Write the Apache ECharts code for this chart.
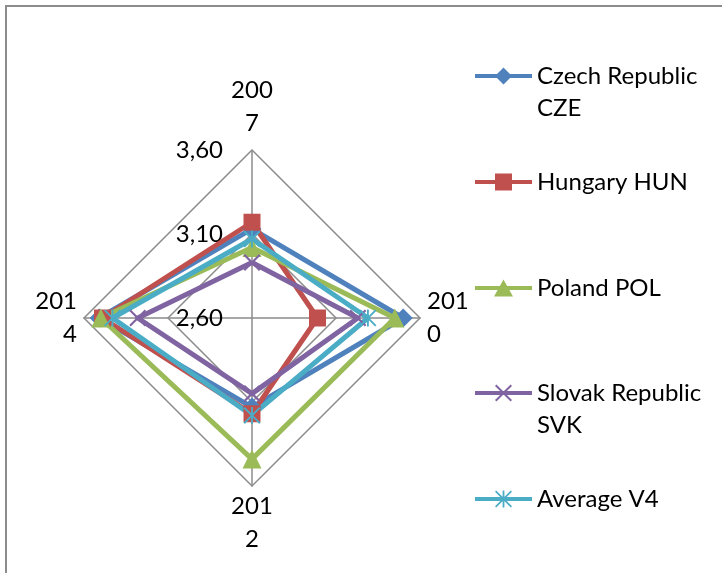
<!DOCTYPE html>
<html>
<head>
<meta charset="utf-8">
<script src="https://cdn.jsdelivr.net/npm/echarts@6/dist/echarts.min.js"></script>
<style>
html,body{margin:0;padding:0;background:#fff;}
#frame{position:absolute;left:5px;top:5px;width:800px;height:700px;border-left:2px solid #8c8c8c;border-top:2px solid #8c8c8c;}
#chart{position:absolute;left:0;top:0;width:722px;height:573px;}
</style>
</head>
<body>
<div id="frame"></div>
<div id="chart"></div>
<script>
// ---- data ----
const categories = ['2007', '2010', '2012', '2014'];
const seriesNames = ['Czech Republic CZE', 'Hungary HUN', 'Poland POL', 'Slovak Republic SVK', 'Average V4'];
const czeValues = [3.13, 3.50, 3.13, 3.51];
const hunValues = [3.17, 2.99, 3.17, 3.49];
const polValues = [3.02, 3.45, 3.44, 3.50];
const svkValues = [2.93, 3.23, 3.05, 3.28];
const avgValues = [3.07, 3.29, 3.18, 3.43];
const axisMin = 2.6;
const axisMax = 3.6;
const axisSplits = 2;

// ---- styles ----
const colors = ['#4F81BD', '#C0504D', '#9BBB59', '#8064A2', '#4BACC6'];
const FONT = 'Lato';
const FS = 24;

// ECharts radar runs counter-clockwise; the reference runs clockwise.
function clockwise(arr) {
  return [arr[0]].concat(arr.slice(1).reverse());
}

// marker shapes
function xPoly(cx, cy, h, d) {
  return 'M' + (cx - h) + ',' + (cy - h + d) + ' L' + (cx - h + d) + ',' + (cy - h) + ' L' + cx + ',' + (cy - d) +
    ' L' + (cx + h - d) + ',' + (cy - h) + ' L' + (cx + h) + ',' + (cy - h + d) + ' L' + (cx + d) + ',' + cy +
    ' L' + (cx + h) + ',' + (cy + h - d) + ' L' + (cx + h - d) + ',' + (cy + h) + ' L' + cx + ',' + (cy + d) +
    ' L' + (cx - h + d) + ',' + (cy + h) + ' L' + (cx - h) + ',' + (cy + h - d) + ' L' + (cx - d) + ',' + cy + ' Z';
}
function vBar(cx, cy, h, w) {
  return 'M' + (cx - w) + ',' + (cy - h) + ' L' + (cx + w) + ',' + (cy - h) + ' L' + (cx + w) + ',' + (cy + h) + ' L' + (cx - w) + ',' + (cy + h) + ' Z';
}
const xSymbol = 'path://' + xPoly(5, 5, 5, 0.9);
const starSymbol = 'path://' + xPoly(5, 5, 5, 0.8) + ' ' + vBar(5, 5, 5, 0.55);

// legend icons (57x17 box: line + marker)
const IW = 57, IH = 17, CX = 28.5, CY = 8.5;
const lineRect = 'M0,6.5 L57,6.5 L57,10.5 L0,10.5 Z ';
const legendIcons = [
  'path://' + lineRect + 'M28.5,0 L37,8.5 L28.5,17 L20,8.5 Z',
  'path://' + lineRect + 'M20,0 L37,0 L37,17 L20,17 Z',
  'path://' + lineRect + 'M28.5,0 L38,17 L19,17 Z',
  'path://' + lineRect + xPoly(CX, CY, 8.5, 1.4),
  'path://' + lineRect + xPoly(CX, CY, 8.5, 1.2) + ' ' + vBar(CX, CY, 8.5, 0.9)
];
const seriesSymbols = ['diamond', 'rect', 'triangle', xSymbol, starSymbol];
const symbolSizes = [19, 17, 19, 17, 17];
const valueSets = [czeValues, hunValues, polValues, svkValues, avgValues];

// legend row centres (icon centre y)
const legendIconY = [76, 182, 288, 393, 499];
const LH = 32;

function isLong(n) { return n.length > 14; }
function wrapName(n) {
  if (isLong(n)) {
    const i = n.lastIndexOf(' ');
    // blank first line keeps the icon level with the first text line
    return ' \n' + n.slice(0, i) + '\n' + n.slice(i + 1);
  }
  return n;
}

const legends = seriesNames.map(function (name, i) {
  const twoLine = isLong(name);
  return {
    orient: 'vertical',
    left: 475,
    padding: 0,
    top: twoLine ? legendIconY[i] - (LH * 3) / 2 : legendIconY[i] - LH / 2,
    itemWidth: IW,
    itemHeight: IH,
    itemGap: 0,
    selectedMode: false,
    data: [{ name: name, icon: legendIcons[i] }],
    formatter: wrapName,
    textStyle: { fontFamily: FONT, fontSize: FS, color: '#000', lineHeight: LH }
  };
});

const gridLine = { color: '#8c8c8c', width: 1.5 };

const option = {
  backgroundColor: 'transparent',
  animation: false,
  legend: legends,
  radar: [
    {
      center: [252, 318],
      radius: 168,
      startAngle: 90,
      shape: 'polygon',
      splitNumber: axisSplits,
      indicator: clockwise(categories).map(function (c) { return { name: c, min: axisMin, max: axisMax }; }),
      axisName: {
        color: '#000', fontFamily: FONT, fontSize: FS, lineHeight: 33,
        padding: [0, 3, 6, 3],
        formatter: function (n) { return n.slice(0, 3) + '\n' + n.slice(3); }
      },
      nameGap: 4,
      axisLine: { show: true, lineStyle: gridLine },
      splitLine: { show: true, lineStyle: gridLine },
      splitArea: { show: false },
      axisTick: { show: false },
      axisLabel: { show: false }
    },
    {
      center: [252, 318],
      radius: 168,
      startAngle: 90,
      shape: 'polygon',
      splitNumber: axisSplits,
      indicator: [{ name: '', min: axisMin, max: axisMax }],
      axisName: { show: false },
      axisLine: { show: false },
      splitLine: { show: false },
      splitArea: { show: false },
      axisTick: { show: false },
      axisLabel: {
        show: true, color: '#000', fontFamily: FONT, fontSize: FS, margin: 29,
        formatter: function (v) { return Number(v).toFixed(2).replace('.', ','); }
      }
    }
  ],
  series: [{
    type: 'radar',
    radarIndex: 0,
    data: seriesNames.map(function (name, i) {
      return {
        name: name,
        value: clockwise(valueSets[i]),
        symbol: seriesSymbols[i],
        symbolSize: symbolSizes[i],
        lineStyle: { color: colors[i], width: 5 },
        itemStyle: { color: colors[i] }
      };
    })
  }]
};

const chart = echarts.init(document.getElementById('chart'), null, { renderer: 'canvas' });
chart.setOption(option);
</script>
</body>
</html>
